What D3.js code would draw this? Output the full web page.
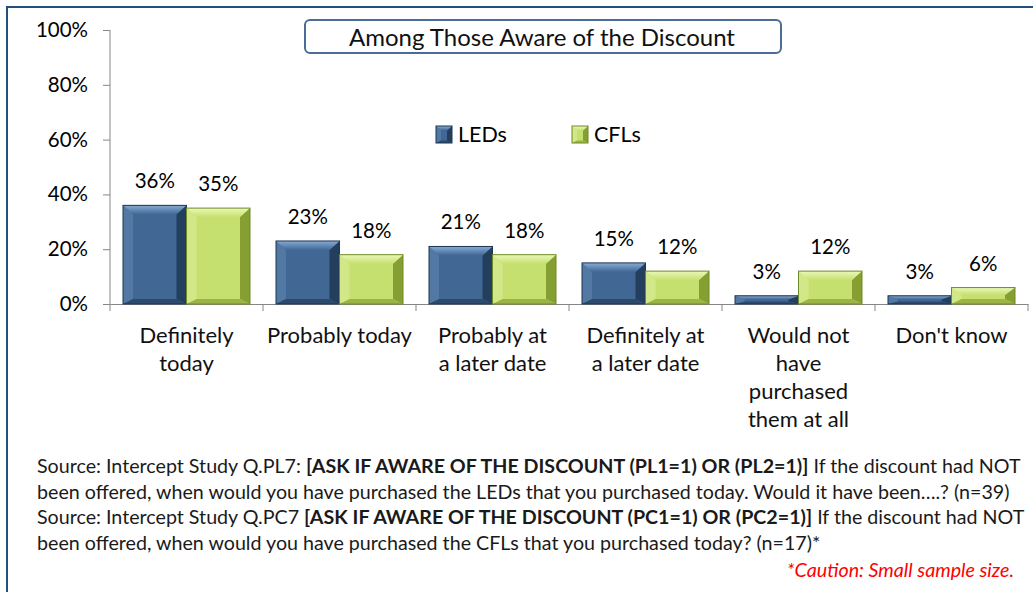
<!DOCTYPE html>
<html>
<head>
<meta charset="utf-8">
<script src="https://cdnjs.cloudflare.com/ajax/libs/d3/7.8.5/d3.min.js"></script>
<style>
  body { margin: 0; background: #fff; }
  svg { display: block; font-family: Lato, "Open Sans", sans-serif; }
</style>
</head>
<body>
<div id="chart"></div>
<script>
(function () {
	var width = 1033;
	var height = 592;

	var categories = [
		["Definitely", "today"],
		["Probably today"],
		["Probably at", "a later date"],
		["Definitely at", "a later date"],
		["Would not", "have", "purchased", "them at all"],
		["Don't know"]
	];
	var series = ["LEDs", "CFLs"];
	var ledValues = [0.36, 0.23, 0.21, 0.15, 0.03, 0.03];
	var cflValues = [0.35, 0.18, 0.18, 0.12, 0.12, 0.06];
	var yTicks = [0, 0.2, 0.4, 0.6, 0.8, 1];

	var palette = {
		LEDs: { face: "#416894", top: "url(#topLEDs)", left: "#5179a3", right: "#243f5e", bottom: "#2b4a6c", edge: "#1d3650", hi: "#86acd6" },
		CFLs: { face: "#c6e070", top: "url(#topCFLs)", left: "#d2e888", right: "#869f33", bottom: "#9ab545", edge: "#6f8a28", hi: "#eaf8b8" }
	};

	var svg = d3.select("#chart")
	   .append("svg")
	   .attr("width", width)
	   .attr("height", height)

	var defs = svg.append("defs")
	series.forEach(function (s) {
		var grad = defs.append("linearGradient")
		   .attr("id", "top" + s)
		   .attr("x1", 0).attr("y1", 0).attr("x2", 0).attr("y2", 1)
		grad.append("stop").attr("offset", "0%").attr("stop-color", palette[s].hi)
		grad.append("stop").attr("offset", "100%").attr("stop-color", palette[s].face)
	});

	// outer frame
	svg.append("rect")
	   .attr("x", 7).attr("y", 7)
	   .attr("width", 1040).attr("height", 600)
	   .attr("fill", "none")
	   .attr("stroke", "#20507e")
	   .attr("stroke-width", 2)

	var catKeys = categories.map(function (c) { return c.join(" "); });

	var x0 = d3.scaleBand().domain(catKeys).range([110, 1028]).padding(0)
	var x1 = d3.scaleBand().domain(series).range([13, x0.bandwidth() - 13])
	var y = d3.scaleLinear().domain([0, 1]).range([304, 30])

	// y axis
	var yAxis = svg.append("g")
	   .attr("transform", "translate(110,0)")
	   .call(d3.axisLeft(y).tickValues(yTicks).tickFormat(d3.format(".0%")).tickSize(7).tickPadding(15))
	yAxis.select(".domain").attr("stroke", "#868686").attr("d", "M0,30V311")
	yAxis.selectAll(".tick line").attr("stroke", "#868686")
	yAxis.selectAll(".tick text")
	   .attr("font-size", 20.5).attr("fill", "#000")
	   .attr("font-family", "Lato, sans-serif")

	// x axis
	var xAxis = svg.append("g")
	   .attr("transform", "translate(0,304)")
	   .call(d3.axisBottom(x0).tickSize(0).tickFormat(""))
	xAxis.select(".domain").attr("stroke", "#868686")
	xAxis.selectAll(".tick").remove()
	xAxis.selectAll(".sep")
	   .data(catKeys.slice(1).concat(["end"]))
	   .enter().append("line")
	   .attr("x1", function (d) { return d === "end" ? x0.range()[1] : x0(d); })
	   .attr("x2", function (d) { return d === "end" ? x0.range()[1] : x0(d); })
	   .attr("y1", 0).attr("y2", 7)
	   .attr("stroke", "#868686")

	// category labels
	var catLabels = svg.append("g")
	categories.forEach(function (lines, i) {
		var t = catLabels.append("text")
		   .attr("text-anchor", "middle")
		   .attr("font-size", 22)
		   .attr("fill", "#111")
		lines.forEach(function (line, j) {
			t.append("tspan")
			 .attr("x", x0(catKeys[i]) + x0.bandwidth() / 2)
			 .attr("y", 343 + j * 28)
			 .text(line)
		})
	})

	// bevelled bar: top / side / bottom bevel widths differ like the source's lighting
	function bevelBar(g, bx, by, w, h, c, size) {
		var k = size || 1;
		var bt = Math.min(9 * k, h * 0.45), bs = Math.min(10 * k, w / 2), bb = Math.min(5 * k, h * 0.3);
		var grp = g.append("g");
		grp.append("rect").attr("x", bx).attr("y", by).attr("width", w).attr("height", h).attr("fill", c.face);
		var pts = {
			top: [[bx, by], [bx + w, by], [bx + w - bs, by + bt], [bx + bs, by + bt]],
			left: [[bx, by], [bx + bs, by + bt], [bx + bs, by + h - bb], [bx, by + h]],
			right: [[bx + w, by], [bx + w, by + h], [bx + w - bs, by + h - bb], [bx + w - bs, by + bt]],
			bottom: [[bx, by + h], [bx + bs, by + h - bb], [bx + w - bs, by + h - bb], [bx + w, by + h]]
		};
		["left", "right", "bottom", "top"].forEach(function (key) {
			grp.append("polygon")
			   .attr("points", pts[key].map(function (p) { return p.join(","); }).join(" "))
			   .attr("fill", c[key]);
		});
		grp.append("rect").attr("x", bx).attr("y", by).attr("width", w).attr("height", h)
		   .attr("fill", "none").attr("stroke", c.edge).attr("stroke-width", 1);
	}

	var bars = svg.append("g")
	var labels = svg.append("g")
	var data = [];
	catKeys.forEach(function (k, i) {
		data.push({ cat: k, s: "LEDs", v: ledValues[i] });
		data.push({ cat: k, s: "CFLs", v: cflValues[i] });
	});
	data.forEach(function (d) {
		var bx = x0(d.cat) + x1(d.s);
		bevelBar(bars, bx, y(d.v), x1.bandwidth(), y(0) - y(d.v), palette[d.s]);
		labels.append("text")
		   .attr("x", bx + x1.bandwidth() / 2)
		   .attr("y", y(d.v) - 17)
		   .attr("text-anchor", "middle")
		   .attr("font-size", 20.5)
		   .attr("fill", "#000")
		   .text(d3.format(".0%")(d.v))
	});

	// title box
	svg.append("rect")
	   .attr("x", 305).attr("y", 20)
	   .attr("width", 476).attr("height", 33)
	   .attr("rx", 5)
	   .attr("fill", "#fff")
	   .attr("stroke", "#4a6d97")
	   .attr("stroke-width", 2)
	svg.append("text")
	   .attr("x", 542).attr("y", 46)
	   .attr("text-anchor", "middle")
	   .attr("font-size", 24)
	   .attr("fill", "#111")
	   .text("Among Those Aware of the Discount")

	// legend
	var legendX = [436, 572];
	series.forEach(function (s, i) {
		bevelBar(svg, legendX[i], 126, 16, 17, palette[s], 0.5);
		svg.append("text")
		   .attr("x", legendX[i] + 22).attr("y", 142)
		   .attr("font-size", 21.5)
		   .attr("fill", "#000")
		   .text(s)
	});

	// footnotes
	var notes = [
		{ parts: [["Source: Intercept Study Q.PL7: ", false], ["[ASK IF AWARE OF THE DISCOUNT (PL1=1) OR (PL2=1)]", true], [" If the discount had NOT", false]], justify: true },
		{ parts: [["been offered, when would you have purchased the LEDs that you purchased today. Would it have been\u2026.? (n=39)", false]], justify: false },
		{ parts: [["Source: Intercept Study Q.PC7 ", false], ["[ASK IF AWARE OF THE DISCOUNT (PC1=1) OR (PC2=1)]", true], [" If the discount had NOT", false]], justify: true },
		{ parts: [["been offered, when would you have purchased the CFLs that you purchased today? (n=17)*", false]], justify: false }
	];
	var noteLeft = 37, noteRight = 1019;
	var noteG = svg.append("g")
	var noteTexts = notes.map(function (n, i) {
		var t = noteG.append("text")
		   .attr("x", noteLeft).attr("y", 473 + i * 25.7)
		   .attr("font-size", 16)
		   .attr("fill", "#1a1a1a")
		n.parts.forEach(function (p) {
			t.append("tspan").attr("font-weight", p[1] ? "bold" : null).text(p[0]);
		});
		return t;
	});
	// fit the font so the unjustified LED line ends where it does in the source
	var natural = noteTexts[1].node().getComputedTextLength();
	var fs = 16 * (1010 - noteLeft) / natural;
	noteTexts.forEach(function (t, i) {
		t.attr("font-size", fs);
		if (notes[i].justify) {
			var w = t.node().getComputedTextLength();
			var spaces = notes[i].parts.map(function (p) { return p[0]; }).join("").split(" ").length - 1;
			t.attr("word-spacing", Math.max(0, (noteRight - noteLeft - w) / spaces));
		}
	});

	svg.append("text")
	   .attr("x", 1014).attr("y", 577)
	   .attr("text-anchor", "end")
	   .attr("font-size", fs)
	   .attr("font-style", "italic")
	   .attr("fill", "#ff0000")
	   .text("*Caution: Small sample size.")

})();
</script>
</body>
</html>
